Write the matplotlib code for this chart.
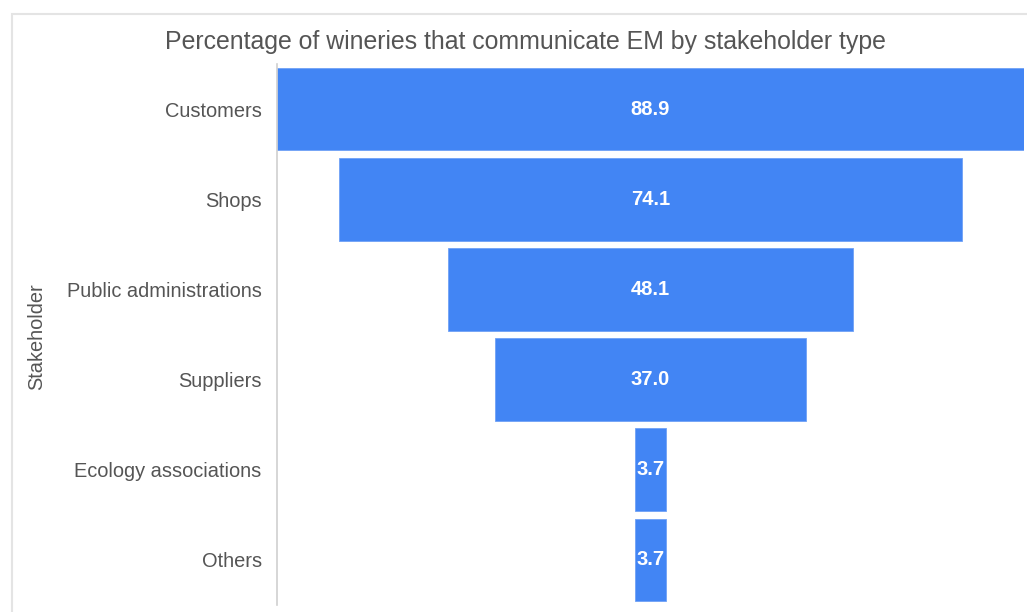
import matplotlib
matplotlib.use("Agg")
import matplotlib.pyplot as plt
from matplotlib.patches import Rectangle

categories = ["Customers", "Shops", "Public administrations", "Suppliers",
              "Ecology associations", "Others"]
values = [88.9, 74.1, 48.1, 37.0, 3.7, 3.7]
title = "Percentage of wineries that communicate EM by stakeholder type"
ylabel = "Stakeholder"

plt.rcParams['font.family'] = ['Liberation Sans', 'DejaVu Sans']
W, H = 1027, 612
fig = plt.figure(figsize=(W / 100, H / 100), dpi=100)

# outer light frame
fig.patches.append(Rectangle((12 / W, -0.1), 1.2, 1 - 14 / H + 0.1,
                             transform=fig.transFigure, fill=False,
                             edgecolor="#e4e4e4", linewidth=1.5))

ax = fig.add_axes([277 / W, 1 - 605 / H, (1024 - 277) / W, (605 - 64) / H])
n = len(categories)
ypos = list(range(n))
maxv = max(values)
lefts = [-v / 2 for v in values]
ax.barh(ypos, values, left=lefts, height=0.915, color="#4285F4",
        edgecolor="#6fa1f6", linewidth=0.6)
for y, v in zip(ypos, values):
    ax.text(0, y, f"{v:.1f}", ha="center", va="center", color="white",
            fontsize=14.5, fontweight="bold")

ax.set_xlim(-maxv / 2, maxv / 2)
ax.set_ylim(n - 0.5, -0.5)
ax.set_yticks(ypos)
ax.set_yticklabels(categories, fontsize=14.4, color="#555555")
ax.tick_params(axis="y", length=0, pad=11)
ax.set_xticks([])
for s in ["top", "right", "bottom"]:
    ax.spines[s].set_visible(False)
ax.spines["left"].set_color("#d0d0d0")
ax.spines["left"].set_linewidth(1.2)

fig.text(37 / W, 1 - 337 / H, ylabel, rotation=90, ha="center", va="center",
         fontsize=14.4, color="#555555")
fig.text(525 / W, 1 - 42 / H, title, ha="center", va="center",
         fontsize=17.9, color="#555555")

fig.savefig("out.png", dpi=100, facecolor="white")
